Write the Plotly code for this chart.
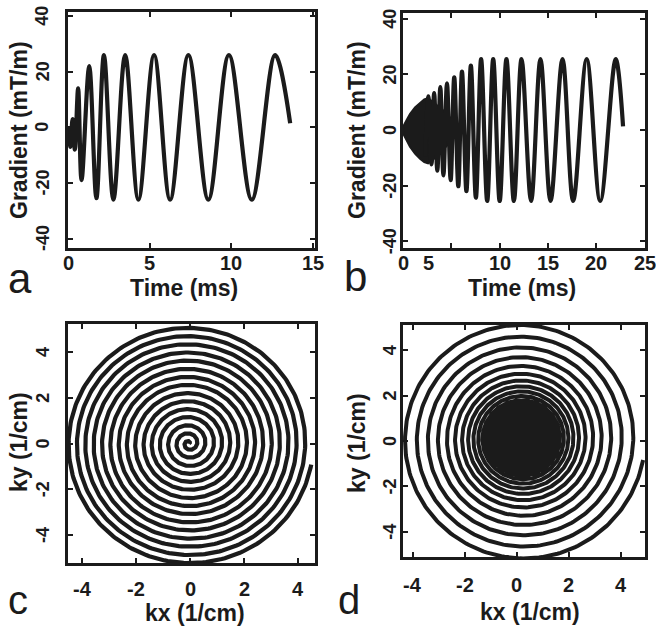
import numpy as np
import plotly.graph_objects as go

W, H = 656, 626

# ---------------- data ----------------
# (a) uniform-density spiral: successive extrema of the gradient waveform
a_time_ms = [0.05, 0.15, 0.28, 0.42, 0.62, 0.83, 1.30, 1.74, 2.20, 2.78, 3.50, 4.31,
             5.27, 6.25, 7.37, 8.59, 9.85, 11.25, 12.68, 13.60]
a_grad = [0.0, -7.0, 3.0, -8.0, 14.0, -19.0, 22.0, -25.5, 26.0, -26.0, 26.0, -26.0,
          26.0, -26.0, 26.0, -26.0, 26.0, -26.0, 26.0, 1.5]

# (b) variable-density spiral: envelope of the unresolved fast oscillation
b_env_time = [0.0, 0.1, 0.38, 0.72, 1.24, 1.76, 2.2, 2.6, 3.3, 4.2, 5.0, 5.8]
b_env_upper = [0.0, 1.8, 3.6, 5.8, 8.1, 9.8, 11.0, 11.5, 9.5, 7.0, 4.0, 0.0]
b_env_lower = [0.0, -1.8, -3.8, -6.0, -8.5, -10.3, -11.5, -12.0, -10.0, -7.0, -4.0, 0.0]
# (b) resolved extrema
b_time_ms = [2.30, 2.62, 2.95, 3.22, 3.55, 3.86, 4.18, 4.55, 4.93, 5.30, 5.72, 6.10,
             6.56, 7.02, 7.54, 8.08, 8.71, 9.33, 10.00, 10.70, 11.47, 12.26, 13.25,
             14.22, 15.26, 16.50, 17.60, 19.00, 20.40, 22.00, 22.76]
b_grad = [-9.5, 12.1, -12.3, 13.3, -14.6, 15.5, -16.3, 16.8, -18.0, 19.0, -20.2, 21.0,
          -22.0, 23.2, -24.3, 25.5, -25.5, 25.5, -25.5, 25.5, -25.5, 25.5, -25.5,
          25.5, -25.5, 25.5, -25.5, 25.5, -25.5, 25.5, 1.3]

# (c) uniform spiral: ring distances from centre (px) at the end angle, per turn
c_ring_px = [0, 8, 16, 24.5, 32.5, 40.5, 48.5, 57, 65, 73, 81.5, 89.5, 98, 106, 114.5, 122.5]
c_kmax = (4.6, 5.3)        # kx, ky extent of outer turn (1/cm)
c_center = (-0.04, 0.0)
c_end_deg = -10

# (d) variable-density spiral: ring distances from centre (px) per turn
d_ring_px = [0, 3, 6, 9.5, 13, 16.5, 20, 23.5, 27, 30.5, 34, 37.5, 41.5, 46, 51,
             56.5, 63, 70.5, 79, 88.5, 99, 110.5, 122.5]
d_kmax = (4.72, 5.39)
d_center = (0.21, 0.1)
d_end_deg = -10

grad_ticks = [-40, -20, 0, 20, 40]
k_ticks = [-4, -2, 0, 2, 4]
a_time_ticks = [0, 5, 10, 15]
b_time_ticks = [0, 5, 10, 15, 20, 25]
b_time_label_pos = [0, 2.6, 10, 15, 20, 25]   # the "5" is printed off its tick

INK = '#1b1b1b'
FONT = 'Liberation Sans'
XTICK, YTICK, TITLE = 20, 18, 23


def spiral(ring_px, kmax, center, end_deg, per_turn=240):
    r = np.array(ring_px, float) / ring_px[-1]
    n = len(r) - 1
    phi = np.linspace(0, 2 * np.pi * n, n * per_turn + 1)
    rad = np.interp(phi, 2 * np.pi * np.arange(n + 1), r)
    ang = np.deg2rad(end_deg) - (2 * np.pi * n - phi)
    return center[0] + kmax[0] * rad * np.cos(ang), center[1] + kmax[1] * rad * np.sin(ang)


fig = go.Figure()

# (a)
fig.add_trace(go.Scatter(x=a_time_ms, y=a_grad, mode='lines', xaxis='x', yaxis='y',
                         line=dict(color=INK, width=4.2, shape='spline', smoothing=1.0)))
# (b)
fig.add_trace(go.Scatter(x=b_env_time + b_env_time[::-1], y=b_env_upper + b_env_lower[::-1],
                         mode='lines', fill='toself', fillcolor=INK, xaxis='x2', yaxis='y2',
                         line=dict(color=INK, width=2)))
fig.add_trace(go.Scatter(x=b_time_ms, y=b_grad, mode='lines', xaxis='x2', yaxis='y2',
                         line=dict(color=INK, width=4.2, shape='spline', smoothing=1.0)))
# (c)
cx, cy = spiral(c_ring_px, c_kmax, c_center, c_end_deg)
fig.add_trace(go.Scatter(x=cx, y=cy, mode='lines', xaxis='x3', yaxis='y3',
                         line=dict(color=INK, width=4.2)))
# (d)
dx, dy = spiral(d_ring_px, d_kmax, d_center, d_end_deg)
fig.add_trace(go.Scatter(x=dx, y=dy, mode='lines', xaxis='x4', yaxis='y4',
                         line=dict(color=INK, width=4.0)))


def dx_(l, r):
    return [l / W, r / W]


def dy_(t, b):
    return [1 - b / H, 1 - t / H]


def ax(domain, rng, tickvals, anchor):
    return dict(domain=domain, range=rng, tickvals=tickvals, showticklabels=False,
                ticks='inside', ticklen=5, tickwidth=2, tickcolor=INK, showline=True,
                linecolor=INK, linewidth=3, mirror='allticks', showgrid=False,
                zeroline=False, fixedrange=True, anchor=anchor)


fig.update_layout(
    width=W, height=H, margin=dict(l=0, r=0, t=0, b=0),
    paper_bgcolor='white', plot_bgcolor='white', showlegend=False,
    xaxis=ax(dx_(68, 315), [0, 15.12], a_time_ticks, 'y'),
    yaxis=ax(dy_(12, 248), [-43.4, 41.5], grad_ticks, 'x'),
    xaxis2=ax(dx_(403, 645), [0, 25.03], b_time_ticks, 'y2'),
    yaxis2=ax(dy_(13, 248), [-42.4, 42.1], grad_ticks, 'x2'),
    xaxis3=ax(dx_(68, 315), [-4.52, 4.63], k_ticks, 'y3'),
    yaxis3=ax(dy_(324, 563), [-5.22, 5.22], k_ticks, 'x3'),
    xaxis4=ax(dx_(403, 645), [-4.37, 4.93], k_ticks, 'y4'),
    yaxis4=ax(dy_(325, 557), [-5.11, 5.11], k_ticks, 'x4'),
)


def lab(v):
    return ('-' if v < 0 else '') + str(abs(v))


def font(size, bold=True):
    return dict(family=FONT, size=size, color=INK, weight='bold' if bold else 'normal')


def xlabels(xref, positions, values, py):
    for p, v in zip(positions, values):
        fig.add_annotation(text=lab(v), x=p, xref=xref, y=1 - py / H, yref='paper',
                           xanchor='center', yanchor='middle', showarrow=False,
                           font=font(XTICK))


def ylabels(yref, values, px):
    for v in values:
        fig.add_annotation(text=lab(v), x=px / W, xref='paper', y=v, yref=yref,
                           xanchor='center', yanchor='middle', showarrow=False,
                           textangle=-90, font=font(YTICK))


xlabels('x', a_time_ticks, a_time_ticks, 263)
xlabels('x2', b_time_label_pos, b_time_ticks, 263)
xlabels('x3', k_ticks, k_ticks, 589)
xlabels('x4', k_ticks, k_ticks, 585)
ylabels('y', grad_ticks, 42.5)
ylabels('y2', grad_ticks, 390)
ylabels('y3', k_ticks, 43)
ylabels('y4', k_ticks, 390)


def note(text, px, py, size, bold=True, angle=0):
    fig.add_annotation(text=text, x=px / W, y=1 - py / H, xref='paper', yref='paper',
                       xanchor='center', yanchor='middle', showarrow=False, textangle=angle,
                       font=font(size, bold))


note('Gradient (mT/m)', 19, 130, TITLE, angle=-90)
note('Time (ms)', 184, 288, TITLE)
note('Gradient (mT/m)', 357, 130, TITLE, angle=-90)
note('Time (ms)', 522, 288, TITLE)
note('ky (1/cm)', 19, 442, TITLE, angle=-90)
note('kx (1/cm)', 195, 613, TITLE)
note('ky (1/cm)', 357, 443, TITLE, angle=-90)
note('kx (1/cm)', 530, 612, TITLE)
note('a', 20, 278, 42, bold=False)
note('b', 355, 277, 42, bold=False)
note('c', 18, 600, 40, bold=False)
note('d', 349, 600, 40, bold=False)

fig.write_html('out.html')
